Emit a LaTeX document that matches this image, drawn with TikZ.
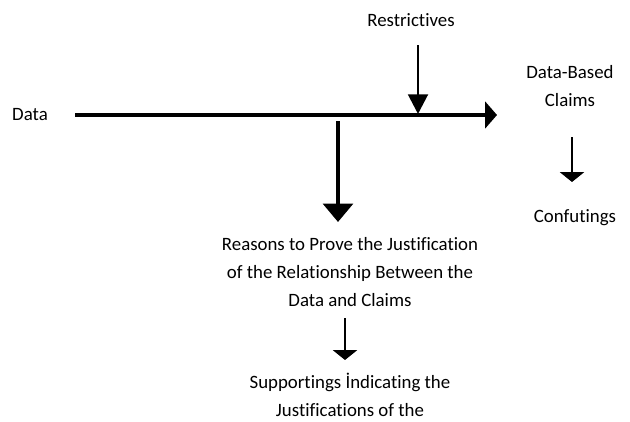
\documentclass[tikz,border=0pt]{standalone}
\usepackage{fontspec}
\setmainfont[Ligatures={NoCommon}]{Carlito}
\usetikzlibrary{arrows.meta}

\begin{document}
\begin{tikzpicture}[x=0.025cm,y=-0.025cm,
    lbl/.style={align=center,inner sep=0pt,font=\fontsize{13.4}{20}\selectfont},
    thickarr/.style={line width=2.8pt},
    thinarr/.style={line width=2.1pt}]
    \useasboundingbox (0,0) rectangle (630,421);
    % labels
    \node[lbl] (data) at (30,115) {Data};
    \node[lbl] (restr) at (411,20) {Restrictives};
    \node[lbl] (claims) at (570,86) {Data-Based\\Claims};
    \node[lbl] (confut) at (575,218) {Confutings};
    \node[lbl] (reasons) at (350,272) {Reasons to Prove the Justification\\of the Relationship Between the\\Data and Claims};
    \node[lbl] (support) at (350,395) {Supportings İndicating the\\Justifications of the};
    % points on the main line
    \coordinate (h0) at (75,115);
    \coordinate (h1) at (497,115);
    \coordinate (r0) at (418,45);
    \coordinate (r1) at (418,114);
    \coordinate (j0) at (338,121);
    \coordinate (j1) at (338,222);
    \draw[thickarr,-{Triangle[length=8.5pt,width=19pt]}] (h0) -- (h1);
    \draw[thinarr,-{Triangle[length=14pt,width=14pt]}] (r0) -- (r1);
    \draw[thickarr,-{Triangle[length=13pt,width=21pt]}] (j0) -- (j1);
    % small arrows
    \coordinate (c0) at (572,137);
    \coordinate (c1) at (572,182);
    \coordinate (s0) at (345,318);
    \coordinate (s1) at (345,360);
    \draw[thinarr,-{Triangle[length=7pt,width=17pt]}] (c0) -- (c1);
    \draw[thinarr,-{Triangle[length=7pt,width=17pt]}] (s0) -- (s1);
\end{tikzpicture}
\end{document}
